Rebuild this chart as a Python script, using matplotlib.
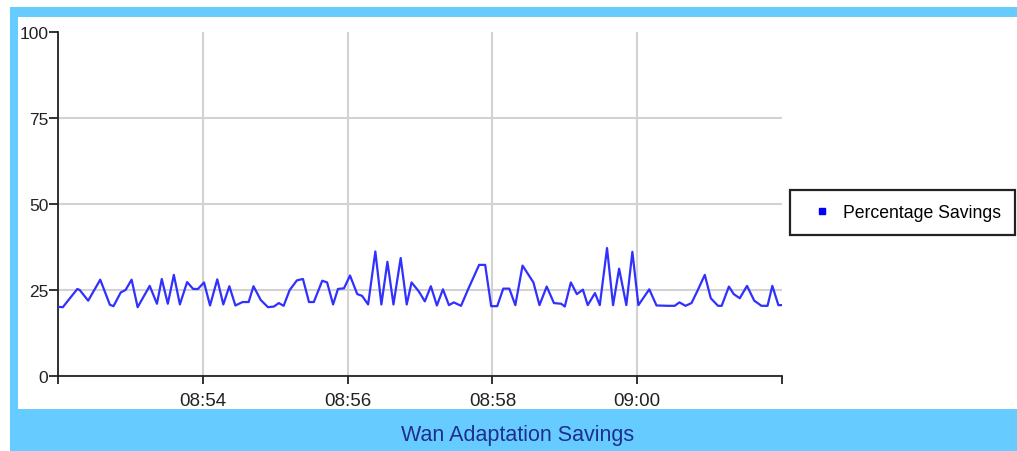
import pandas as pd
import matplotlib
matplotlib.use("Agg")
import matplotlib.pyplot as plt
from matplotlib.patches import Rectangle
from matplotlib.lines import Line2D

plt.rcParams['font.family'] = ['Liberation Sans', 'DejaVu Sans']

# sample times (hh:mm:ss) and the percentage savings
times = [
    "08:52:00", "08:52:04", "08:52:16", "08:52:18", "08:52:25", "08:52:35", "08:52:43", "08:52:46", "08:52:52", "08:52:56",
    "08:53:01", "08:53:06", "08:53:16", "08:53:22", "08:53:26", "08:53:31", "08:53:36", "08:53:41", "08:53:47", "08:53:52",
    "08:53:56", "08:54:01", "08:54:06", "08:54:12", "08:54:17", "08:54:22", "08:54:27", "08:54:33", "08:54:38", "08:54:42",
    "08:54:48", "08:54:54", "08:54:59", "08:55:03", "08:55:07", "08:55:12", "08:55:18", "08:55:23", "08:55:28", "08:55:32",
    "08:55:39", "08:55:43", "08:55:48", "08:55:52", "08:55:57", "08:56:02", "08:56:08", "08:56:12", "08:56:17", "08:56:23",
    "08:56:28", "08:56:33", "08:56:38", "08:56:44", "08:56:49", "08:56:53", "08:56:59", "08:57:04", "08:57:09", "08:57:14",
    "08:57:19", "08:57:24", "08:57:28", "08:57:34", "08:57:40", "08:57:49", "08:57:54", "08:57:59", "08:58:04", "08:58:09",
    "08:58:14", "08:58:19", "08:58:25", "08:58:34", "08:58:39", "08:58:45", "08:58:51", "08:58:57", "08:59:00", "08:59:05",
    "08:59:10", "08:59:15", "08:59:19", "08:59:25", "08:59:29", "08:59:35", "08:59:40", "08:59:45", "08:59:51", "08:59:56",
    "09:00:01", "09:00:10", "09:00:16", "09:00:26", "09:00:31", "09:00:35", "09:00:40", "09:00:45", "09:00:50", "09:00:56",
    "09:01:01", "09:01:07", "09:01:10", "09:01:16", "09:01:20", "09:01:25", "09:01:31", "09:01:37", "09:01:43", "09:01:48",
    "09:01:52", "09:01:57", "09:02:00",
]
savings = [
    20.1, 20.0, 25.3, 25.0, 21.9, 28.0, 20.7, 20.3, 24.3, 25.0,
    28.0, 20.0, 26.2, 21.0, 28.2, 21.0, 29.4, 20.8, 27.3, 25.3,
    25.3, 27.2, 20.5, 28.1, 20.8, 26.1, 20.5, 21.5, 21.5, 26.1,
    22.1, 20.0, 20.2, 21.2, 20.4, 25.0, 27.8, 28.2, 21.5, 21.5,
    27.7, 27.2, 20.8, 25.3, 25.5, 29.2, 23.8, 23.3, 20.8, 36.2,
    20.8, 33.2, 20.8, 34.3, 20.8, 27.2, 24.6, 21.7, 26.1, 20.5,
    25.2, 20.6, 21.4, 20.4, 25.3, 32.3, 32.3, 20.3, 20.3, 25.4,
    25.4, 20.6, 32.1, 27.2, 20.6, 26.0, 21.2, 21.0, 20.2, 27.2,
    23.8, 25.1, 20.6, 24.1, 20.6, 37.2, 20.6, 31.2, 20.6, 36.1,
    20.6, 25.2, 20.5, 20.4, 20.4, 21.4, 20.4, 21.2, 24.8, 29.4,
    22.6, 20.4, 20.4, 26.0, 23.8, 22.6, 26.2, 21.9, 20.4, 20.4,
    26.2, 20.6, 20.6,
]
x_ticks = ["08:52", "08:54", "08:56", "08:58", "09:00", "09:02"]
x_labels = ["", "08:54", "08:56", "08:58", "09:00", ""]
y_ticks = [0, 25, 50, 75, 100]

t = pd.to_datetime(times, format="%H:%M:%S")
tk = pd.to_datetime(x_ticks, format="%H:%M")

W, H = 1017, 452
fig = plt.figure(figsize=(W / 100, H / 100), dpi=100, facecolor="white")

# light blue frame + white panel
fig.patches.append(Rectangle((10 / W, 0), 1 - 10 / W, 444 / H, transform=fig.transFigure,
                             facecolor="#66ccff", edgecolor="none", zorder=-2))
fig.patches.append(Rectangle((18 / W, 42 / H), 1 - 18 / W, 392 / H, transform=fig.transFigure,
                             facecolor="white", edgecolor="none", zorder=-1))

ax = fig.add_axes([58 / W, 75 / H, 724 / W, 344 / H])
ax.set_facecolor("none")
ax.plot(t, savings, color="#3030ff", lw=1.6, zorder=3)

ax.set_xlim(tk[0], tk[-1])
ax.set_ylim(0, 100)
ax.set_xticks(tk)
ax.set_xticklabels(x_labels)
ax.set_yticks(y_ticks)

ax.grid(True, color="#d2d2d2", lw=1.5, zorder=0)
ax.xaxis.get_gridlines()[-1].set_visible(False)
ax.yaxis.get_gridlines()[-1].set_visible(False)

for s in ["top", "right"]:
    ax.spines[s].set_visible(False)
for s in ["left", "bottom"]:
    ax.spines[s].set_color("#222222")
    ax.spines[s].set_linewidth(1.3)
ax.tick_params(axis="x", length=6, width=1.3, pad=5.5, labelsize=13.5, colors="#222222")
ax.tick_params(axis="y", length=6.5, width=1.3, pad=0.5, labelsize=12.5, colors="#222222")

handle = Line2D([], [], color="#0000ff", marker="s", markersize=5, linestyle="none")
leg = fig.legend([handle], ["Percentage Savings"], loc="center left",
                 bbox_to_anchor=(790 / W, (H - 213.5) / H, 225 / W, 0), mode="expand",
                 borderaxespad=0, borderpad=0.8, handlelength=2.0, handletextpad=0.2,
                 fontsize=12.7, frameon=True, fancybox=False, framealpha=1,
                 edgecolor="#222222")
leg.get_frame().set_linewidth(1.6)

fig.text(518 / W, 16 / H, "Wan Adaptation Savings", ha="center", va="center",
         fontsize=15.5, color="#1f2f8f")

fig.savefig("out.png", dpi=100)
